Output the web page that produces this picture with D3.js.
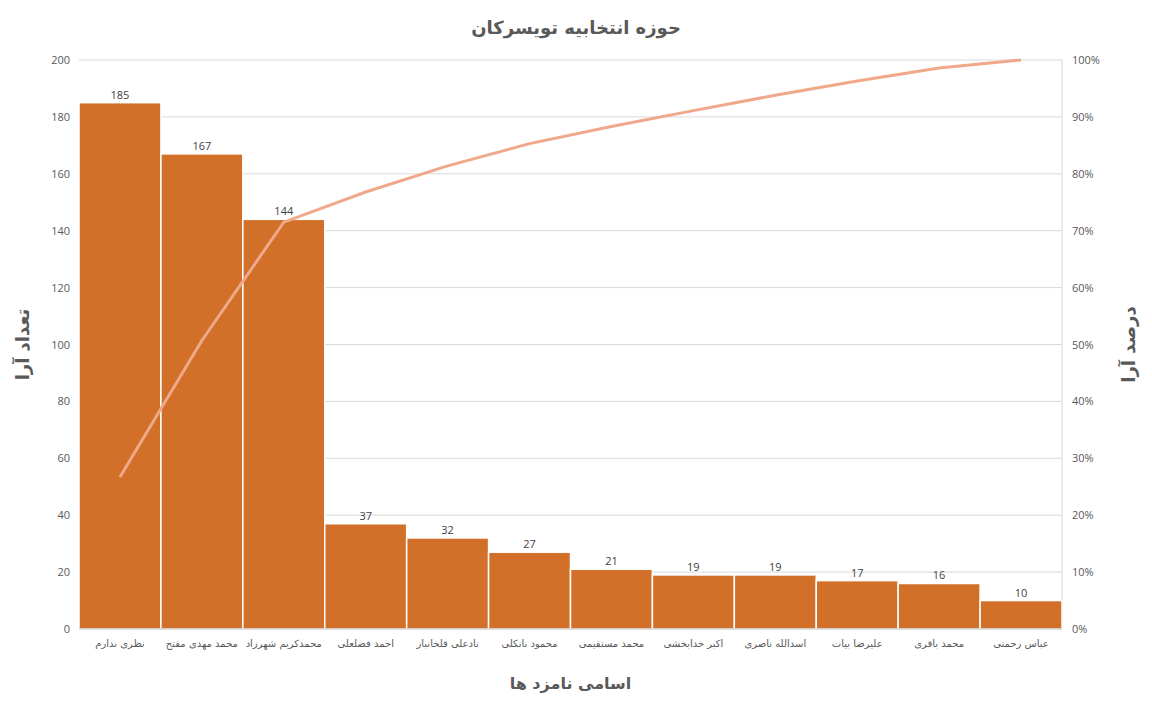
<!DOCTYPE html>
<html>
<head>
<meta charset="utf-8">
<script src="https://cdn.jsdelivr.net/npm/d3@7"></script>
<style>
  body { margin: 0; background: #fff; }
  text { fill: #595959; }
</style>
</head>
<body>
<svg id="chart"></svg>
<script>
// candidates and their vote counts
const candidates = [
  "نظری ندارم", "محمد مهدی مفتح", "محمدکریم شهرزاد", "احمد فضلعلی",
  "نادعلی قلخانباز", "محمود نانکلی", "محمد مستقیمی", "اکبر خدابخشی",
  "اسدالله ناصری", "علیرضا بیات", "محمد باقری", "عباس رحمتی"
];
const votes = [185, 167, 144, 37, 32, 27, 21, 19, 19, 17, 16, 10];
// cumulative share line (percent)
const cumulativePct = [26.7, 50.7, 71.5, 76.8, 81.4, 85.3, 88.3, 91.1, 93.8, 96.3, 98.6, 100];
const countTicks = [0, 20, 40, 60, 80, 100, 120, 140, 160, 180, 200];
const pctTicks = [0, 10, 20, 30, 40, 50, 60, 70, 80, 90, 100];

const W = 1152, H = 704;
const margin = { top: 60, right: 90, bottom: 75, left: 79 };
const width = W - margin.left - margin.right;
const height = H - margin.top - margin.bottom;
const persian = "'DejaVu Sans', sans-serif";
const latin = "'Open Sans', 'Noto Sans', sans-serif";

const svg = d3.select("#chart").attr("width", W).attr("height", H);
const g = svg.append("g").attr("transform", `translate(${margin.left}, ${margin.top})`);

const x = d3.scaleBand().domain(candidates).range([0, width]).padding(0);
const y = d3.scaleLinear().domain([0, 200]).range([height, 0]);
const y2 = d3.scaleLinear().domain([0, 100]).range([height, 0]);

// gridlines
g.append("g")
  .selectAll("line")
  .data(countTicks.slice(1))
  .join("line")
  .attr("x1", 0)
  .attr("x2", width)
  .attr("y1", (d) => y(d))
  .attr("y2", (d) => y(d))
  .attr("stroke", "#d9d9d9")
  .attr("stroke-width", 1);

// right border of plot area
g.append("line")
  .attr("x1", width).attr("x2", width)
  .attr("y1", 0).attr("y2", height)
  .attr("stroke", "#d9d9d9");

// bars
g.append("g")
  .selectAll("rect")
  .data(votes)
  .join("rect")
  .attr("x", (d, i) => x(candidates[i]))
  .attr("y", (d) => y(d))
  .attr("width", x.bandwidth())
  .attr("height", (d) => height - y(d))
  .attr("fill", "#d2702a")
  .attr("stroke", "#fff")
  .attr("stroke-width", 1.5);

// bar value labels
g.append("g")
  .selectAll("text")
  .data(votes)
  .join("text")
  .attr("x", (d, i) => x(candidates[i]) + x.bandwidth() / 2)
  .attr("y", (d) => y(d) - 4)
  .attr("text-anchor", "middle")
  .style("font-family", latin)
  .style("font-size", "11px")
  .style("fill", "#404040")
  .text((d) => d);

// x axis line
g.append("line")
  .attr("x1", 0).attr("x2", width)
  .attr("y1", height).attr("y2", height)
  .attr("stroke", "#bfbfbf");

// pareto line
const line = d3.line()
  .x((d, i) => x(candidates[i]) + x.bandwidth() / 2)
  .y((d) => y2(d));

g.append("path")
  .datum(cumulativePct)
  .attr("d", line)
  .attr("fill", "none")
  .attr("stroke", "#f0a88a")
  .attr("stroke-width", 3);

// axes
const xAxis = g.append("g")
  .attr("transform", `translate(0, ${height})`)
  .call(d3.axisBottom(x).tickSize(0).tickPadding(11));
xAxis.select(".domain").remove();
xAxis.selectAll("text")
  .style("font-family", persian)
  .style("font-size", "10px")
  .style("fill", "#595959");

const yAxis = g.append("g")
  .call(d3.axisLeft(y).tickValues(countTicks).tickSize(0).tickPadding(9));
yAxis.select(".domain").remove();
yAxis.selectAll("text")
  .style("font-family", latin)
  .style("font-size", "11px")
  .style("fill", "#595959");

const yAxis2 = g.append("g")
  .attr("transform", `translate(${width}, 0)`)
  .call(d3.axisRight(y2).tickValues(pctTicks).tickSize(0).tickPadding(10).tickFormat((d) => d + "%"));
yAxis2.select(".domain").remove();
yAxis2.selectAll("text")
  .style("font-family", latin)
  .style("font-size", "11px")
  .style("fill", "#595959");

// titles
svg.append("text")
  .attr("x", W / 2)
  .attr("y", 34)
  .attr("text-anchor", "middle")
  .style("font-family", persian)
  .style("font-weight", "bold")
  .style("font-size", "18px")
  .text("حوزه انتخابیه تویسرکان");

svg.append("text")
  .attr("x", margin.left + width / 2)
  .attr("y", 689)
  .attr("text-anchor", "middle")
  .style("font-family", persian)
  .style("font-weight", "bold")
  .style("font-size", "16px")
  .text("اسامی نامزد ها");

svg.append("text")
  .attr("transform", `translate(29, ${margin.top + height / 2}) rotate(-90)`)
  .attr("text-anchor", "middle")
  .style("font-family", persian)
  .style("font-weight", "bold")
  .style("font-size", "18px")
  .text("تعداد آرا");

svg.append("text")
  .attr("transform", `translate(1135, ${margin.top + height / 2}) rotate(-90)`)
  .attr("text-anchor", "middle")
  .style("font-family", persian)
  .style("font-weight", "bold")
  .style("font-size", "18px")
  .text("درصد آرا");
</script>
</body>
</html>
